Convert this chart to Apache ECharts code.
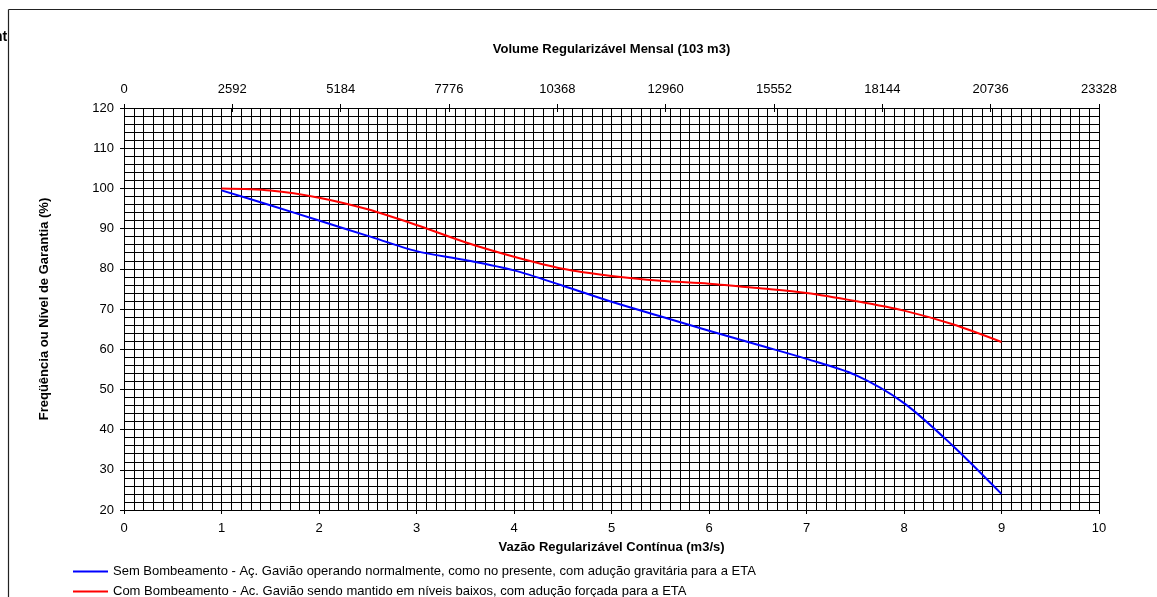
<!DOCTYPE html>
<html>
<head>
<meta charset="utf-8">
<script src="https://cdn.jsdelivr.net/npm/echarts@6/dist/echarts.min.js"></script>
<style>
html,body{margin:0;padding:0;background:#fff;}
#chart{width:1157px;height:597px;}
</style>
</head>
<body>
<div id="chart"></div>
<script>
// Data
var xValues = [1, 1.5, 2, 2.5, 3, 3.5, 4, 4.5, 5, 5.5, 6, 6.5, 7, 7.5, 8, 8.5, 9];
var semBombeamento = [99.5, 95.8, 92, 88.2, 84.4, 82.2, 79.6, 75.8, 71.8, 68.2, 64.6, 61.1, 57.6, 53.6, 46.6, 36, 24];
var comBombeamento = [100, 99.5, 97.7, 94.8, 90.9, 86.6, 83, 80, 78.2, 77, 76.3, 75.2, 74, 72, 69.6, 66.2, 61.8];
var seriesNames = [
  'Sem Bombeamento - Aç. Gavião operando normalmente, como no presente, com adução gravitária para a ETA',
  'Com Bombeamento - Ac. Gavião sendo mantido em níveis baixos, com adução forçada para a ETA'
];
var volumeMax = 23328;
var volumeStep = 2592;
var xAxisName = 'Vazão Regularizável Contínua (m3/s)';
var yAxisName = 'Freqüência ou Nível de Garantia (%)';
var topAxisName = 'Volume Regularizável Mensal (103 m3)';

function pairs(xs, ys) { return xs.map(function (x, i) { return [x, ys[i]]; }); }

var FONT = '"Liberation Sans", Arial, sans-serif';
var nameStyle = { fontFamily: FONT, fontSize: 13, fontWeight: 'bold', color: '#000' };
var labelStyle = { color: '#000', fontFamily: FONT, fontSize: 13 };
function legendFor(i, top) {
  return {
    orient: 'vertical', left: 73, top: top, padding: 0, itemWidth: 35, itemHeight: 2,
    icon: 'rect', selectedMode: false,
    textStyle: { fontFamily: FONT, fontSize: 13, color: '#000', lineHeight: 15 },
    data: [seriesNames[i]]
  };
}
var chart = echarts.init(document.getElementById('chart'));
chart.setOption({
  animation: false,
  backgroundColor: '#fff',
  grid: { left: 124, right: 58, top: 108, bottom: 87, containLabel: false },
  legend: [legendFor(0, 564), legendFor(1, 584)],
  xAxis: [
    {
      type: 'value', position: 'bottom', min: 0, max: 10, interval: 1,
      axisLine: { show: true, onZero: false, lineStyle: { color: '#000', width: 1 } },
      axisTick: { show: true, length: 4, lineStyle: { color: '#000' } },
      axisLabel: Object.assign({ margin: 12 }, labelStyle),
      splitLine: { show: true, lineStyle: { color: '#000', width: 1 } },
      minorTick: { show: false, splitNumber: 10 },
      minorSplitLine: { show: true, lineStyle: { color: '#000', width: 1 } },
      name: xAxisName, nameLocation: 'middle', nameGap: 31, nameTextStyle: nameStyle
    },
    {
      type: 'value', position: 'top', min: 0, max: volumeMax, interval: volumeStep,
      axisLine: { show: true, onZero: false, lineStyle: { color: '#000', width: 1 } },
      axisTick: { show: true, length: 4, lineStyle: { color: '#000' } },
      axisLabel: Object.assign({ margin: 12, formatter: function (v) { return String(v); } }, labelStyle),
      splitLine: { show: false },
      name: topAxisName, nameLocation: 'middle', nameGap: 52, nameTextStyle: nameStyle
    },
    {
      type: 'value', position: 'top', min: 0, max: volumeMax, interval: volumeStep,
      axisLine: { show: false, onZero: false },
      axisTick: { show: true, inside: true, length: 4, lineStyle: { color: '#000' } },
      axisLabel: { show: false },
      splitLine: { show: false }
    }
  ],
  yAxis: [{
    type: 'value', min: 20, max: 120, interval: 10,
    axisLine: { show: true, onZero: false, lineStyle: { color: '#000', width: 1 } },
    axisTick: { show: true, length: 4, lineStyle: { color: '#000' } },
    axisLabel: Object.assign({ margin: 10 }, labelStyle),
    splitLine: { show: true, lineStyle: { color: '#000', width: 1 } },
    minorTick: { show: false, splitNumber: 5 },
    minorSplitLine: { show: true, lineStyle: { color: '#000', width: 1 } },
    name: yAxisName, nameLocation: 'middle', nameGap: 73, nameTextStyle: nameStyle
  }],
  series: [
    {
      name: seriesNames[0], type: 'line', xAxisIndex: 0, yAxisIndex: 0,
      data: pairs(xValues, semBombeamento), symbol: 'none', smooth: 0.3,
      color: '#0000ff', lineStyle: { color: '#0000ff', width: 2 }, z: 5
    },
    {
      name: seriesNames[1], type: 'line', xAxisIndex: 0, yAxisIndex: 0,
      data: pairs(xValues, comBombeamento), symbol: 'none', smooth: 0.3,
      color: '#ff0000', lineStyle: { color: '#ff0000', width: 2 }, z: 5
    }
  ],
  graphic: [
    { type: 'line', shape: { x1: 8.5, y1: 9.5, x2: 1157, y2: 9.5 }, style: { stroke: '#222', lineWidth: 1.2 } },
    { type: 'line', shape: { x1: 8.5, y1: 9.5, x2: 8.5, y2: 597 }, style: { stroke: '#222', lineWidth: 1.2 } },
    { type: 'text', left: -6, top: 30, style: { text: 'nt', font: 'bold 14px "Liberation Sans"', fill: '#000' } }
  ]
});
</script>
</body>
</html>
